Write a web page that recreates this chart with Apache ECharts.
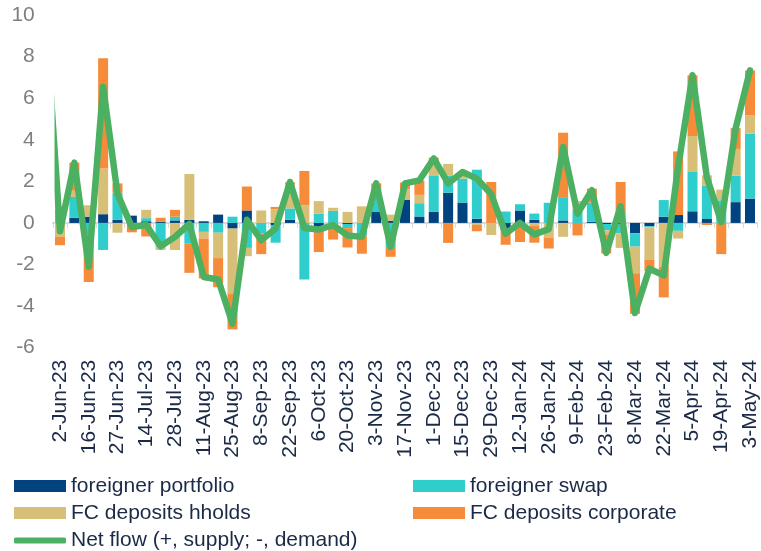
<!DOCTYPE html>
<html>
<head>
<meta charset="utf-8">
<script src="https://cdn.jsdelivr.net/npm/echarts@6/dist/echarts.min.js"></script>
<style>
  html, body { margin: 0; padding: 0; background: #fff; }
  #chart { width: 761px; height: 551px; }
</style>
</head>
<body>
<div id="chart"></div>
<script>
const dates = [
  '2-Jun-23', '9-Jun-23', '16-Jun-23', '23-Jun-23', '27-Jun-23', '7-Jul-23', '14-Jul-23', '21-Jul-23',
  '28-Jul-23', '4-Aug-23', '11-Aug-23', '18-Aug-23', '25-Aug-23', '1-Sep-23', '8-Sep-23', '15-Sep-23',
  '22-Sep-23', '29-Sep-23', '6-Oct-23', '13-Oct-23', '20-Oct-23', '27-Oct-23', '3-Nov-23', '10-Nov-23',
  '17-Nov-23', '24-Nov-23', '1-Dec-23', '8-Dec-23', '15-Dec-23', '22-Dec-23', '29-Dec-23', '5-Jan-24',
  '12-Jan-24', '19-Jan-24', '26-Jan-24', '2-Feb-24', '9-Feb-24', '16-Feb-24', '23-Feb-24', '1-Mar-24',
  '8-Mar-24', '15-Mar-24', '22-Mar-24', '29-Mar-24', '5-Apr-24', '12-Apr-24', '19-Apr-24', '26-Apr-24',
  '3-May-24'
]

const portfolio = [
  0, 0.25, 0.3, 0.42, 0.15, 0.35, 0.08, 0.05, 0.12, 0.15, 0.08, 0.4, -0.27, 0.6, 0, -0.1,
  0.15, 0, -0.2, 0, -0.05, 0, 0.55, 0.1, 1.12, 0.31, 0.53, 1.45, 0.98, 0.2, 0, -0.35,
  0.6, 0.15, 0, 0.12, 0, 0.05, -0.05, -0.05, -0.5, -0.16, 0.3, 0.38, 0.56, 0.19, 0, 1.0,
  1.17
]
const swap = [
  0.65, 1.0, -0.6, -1.3, 1.3, 0, 0.15, -1.15, 0.18, -1.0, -0.43, -0.47, 0.3, -1.2, -0.5, -0.85,
  0.55, -2.72, 0.45, 0.58, -0.2, -0.6, 1.1, -1.15, 0, 0.64, 1.76, 0.83, 1.15, 2.36, 0, 0.55,
  0.3, 0.3, 0.97, 1.12, 0.65, 0.93, -0.3, -0.45, -0.64, -0.05, 0.8, -0.38, 1.92, 1.59, 1.09, 1.28,
  3.12
]
const hholds = [
  -0.67, 0.3, 0.55, 2.2, -0.47, 0, 0.4, -0.15, -1.3, 2.2, -0.32, -1.22, -3.15, -0.4, 0.6, 0.65,
  1.15, 0.85, 0.6, 0.15, 0.53, 0.8, 0, 0.3, 0.5, 0.4, 0.48, 0.56, 0.32, -0.1, -0.58, 0,
  -0.2, -0.15, -0.7, -0.67, 0.4, 0, -0.2, -0.7, -1.28, -1.55, -2.1, -0.37, 1.7, 0.51, 0.51, 1.28,
  0.88
]
const corporate = [
  -0.4, 1.35, -2.24, 5.3, 0.45, -0.45, -0.65, 0.2, 0.33, -1.4, -1.92, -1.4, -1.7, 1.15, -1.0, 0.12,
  0.1, 1.65, -1.2, -0.8, -0.93, -0.88, 0.25, -0.48, 0.32, 0.69, 0.37, -0.96, 0, -0.3, 1.97, -0.7,
  -0.72, -0.8, -0.53, 3.1, -0.6, 0.67, -0.92, 1.97, -1.95, -0.56, -1.48, 3.06, 2.92, -0.1, -1.5, 1.0,
  2.16
]
// net flow; the week before 2-Jun-23 is only visible as the clipped start of the line
const netFlowPrev = 10.0
const netFlow = [
  -0.4, 2.9, -2.1, 6.55, 1.4, -0.2, -0.1, -1.12, -0.67, -0.05, -2.6, -2.72, -4.84, 0.15, -0.83, -0.27,
  1.97, -0.24, -0.32, -0.1, -0.6, -0.67, 1.9, -1.15, 1.9, 2.05, 3.1, 1.9, 2.45, 2.13, 1.38, -0.51,
  0, -0.55, -0.3, 3.65, 0.45, 1.57, -1.44, 0.8, -4.33, -2.2, -2.52, 2.7, 7.1, 2.2, 0.05, 4.54,
  7.34
]

const font = 'Liberation Sans, Arial, sans-serif'
const textColor = '#1b2a47'
const green = '#4cb062'

const bar = (name, data, color) => ({
  name,
  type: 'bar',
  stack: 'flow',
  barWidth: 10,
  xAxisIndex: 0,
  itemStyle: { color },
  data
})

// one legend per entry so the 2-column layout matches
const legendItem = (name, left, top, icon, itemHeight) => ({
  left,
  top,
  padding: 0,
  itemWidth: 52,
  itemHeight,
  selectedMode: false,
  textStyle: { color: textColor, fontSize: 21, lineHeight: 21, fontFamily: font },
  data: [{ name, icon }]
})

const chart = echarts.init(document.getElementById('chart'))

chart.setOption({
  animation: false,
  backgroundColor: '#fff',
  grid: {
    left: 52.8,
    right: 3.8,
    top: 15,
    bottom: 203.3,
    containLabel: false,
    outerBoundsMode: 'none'
  },
  legend: [
    legendItem('foreigner portfolio', 14, 475.5, 'rect', 12),
    legendItem('foreigner swap', 413, 475.5, 'rect', 12),
    legendItem('FC deposits hholds', 14, 502.5, 'rect', 12),
    legendItem('FC deposits corporate', 413, 502.5, 'rect', 12),
    legendItem('Net flow (+, supply; -, demand)', 14, 530, 'roundRect', 6)
  ],
  xAxis: [{
    type: 'category',
    data: dates,
    boundaryGap: true,
    axisLine: { onZero: true, lineStyle: { color: '#d9d9d9', width: 2 } },
    axisTick: { show: true, interval: 0, length: 5, lineStyle: { color: '#d9d9d9', width: 1 } },
    splitLine: { show: false },
    axisLabel: {
      rotate: 90,
      interval: 1,
      margin: 12,
      hideOverlap: false,
      color: textColor,
      fontSize: 21,
      fontFamily: font
    }
  }, {
    type: 'value',
    min: -0.5,
    max: 48.5,
    show: false
  }],
  yAxis: {
    type: 'value',
    min: -6,
    max: 10,
    interval: 2,
    axisLine: { show: false },
    axisTick: { show: false },
    splitLine: { show: false },
    axisLabel: { color: '#7f7f7f', fontSize: 21, margin: 18, fontFamily: font }
  },
  // the line clip path is widened by half the stroke; mask the stub left of the plot
  graphic: [{
    type: 'rect',
    left: 38,
    top: 0,
    z: 100,
    shape: { width: 16.5, height: 212 },
    style: { fill: '#fff' }
  }],
  series: [
    bar('foreigner portfolio', portfolio, '#00437f'),
    bar('foreigner swap', swap, '#30cdcd'),
    bar('FC deposits hholds', hholds, '#d8bf77'),
    bar('FC deposits corporate', corporate, '#f68b39'),
    {
      name: 'Net flow (+, supply; -, demand)',
      type: 'line',
      xAxisIndex: 1,
      clip: true,
      symbol: 'none',
      z: 10,
      itemStyle: { color: green },
      lineStyle: { color: green, width: 6.5, join: 'round', cap: 'round' },
      data: [[-1, netFlowPrev]].concat(netFlow.map((v, i) => [i, v]))
    }
  ]
})
</script>
</body>
</html>
